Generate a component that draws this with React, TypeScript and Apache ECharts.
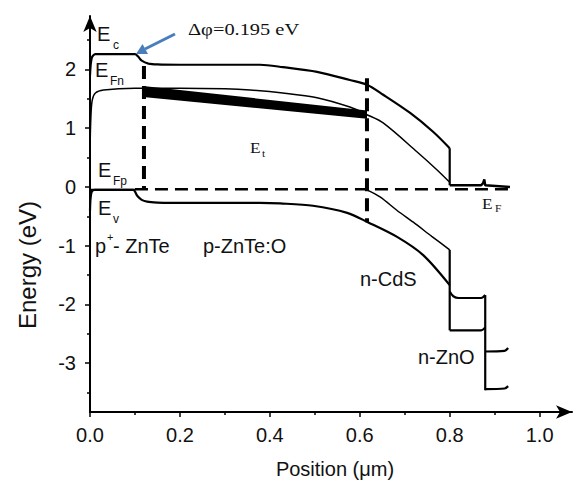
import React, { useEffect, useRef } from "react";
import * as echarts from "echarts";

// ---- axis ticks ----
const xMajorTicks = [0, 0.2, 0.4, 0.6, 0.8, 1.0];
const xMinorTicks = [0.1, 0.3, 0.5, 0.7, 0.9];
const yMajorTicks = [-3, -2, -1, 0, 1, 2];
const yMinorTicks = [-3.5, -2.5, -1.5, -0.5, 0.5, 1.5, 2.5];

// ---- band curves: [position (um), energy (eV)] ----
const ecCurve = [
  [0, 1.9], [0.004, 2.2], [0.012, 2.26], [0.1, 2.26], [0.107, 2.22], [0.115, 2.15],
  [0.13, 2.1], [0.15, 2.085], [0.2, 2.08], [0.3, 2.08], [0.378, 2.08], [0.429, 2.04],
  [0.505, 1.96], [0.578, 1.82], [0.616, 1.74], [0.652, 1.57], [0.712, 1.26],
  [0.763, 0.94], [0.8, 0.66],
];
const ecStep = [[0.8, 0.66], [0.8, 0.03]];
const ecTail = [[0.8, 0.03], [0.87, 0.03], [0.874, 0.06], [0.877, 0.13], [0.879, 0.03], [0.934, 0.0]];

const efnCurve = [
  [0, 0.6], [0.002, 1.2], [0.005, 1.48], [0.012, 1.6], [0.03, 1.65], [0.1, 1.68],
  [0.2, 1.68], [0.3, 1.67], [0.356, 1.65], [0.429, 1.6], [0.505, 1.52], [0.578, 1.36],
  [0.616, 1.23], [0.652, 1.09], [0.727, 0.6], [0.772, 0.29], [0.8, 0.08],
];

const trapTop = [[0.118, 1.72], [0.616, 1.3]];
const trapBottom = [[0.118, 1.53], [0.616, 1.16]];

const evCurve = [
  [0, -0.4], [0.003, -0.1], [0.01, -0.05], [0.096, -0.05], [0.105, -0.15], [0.115, -0.22],
  [0.127, -0.25], [0.15, -0.265], [0.178, -0.27], [0.3, -0.27], [0.378, -0.27],
  [0.423, -0.28], [0.496, -0.32], [0.572, -0.44], [0.618, -0.6], [0.683, -0.85],
  [0.741, -1.16], [0.8, -1.67],
];

const efpSolid = [[0, -0.05], [0.1, -0.05]];
const efpDashed = [[0.1, -0.04], [0.934, -0.04]];
const efpCurve = [[0.616, -0.05], [0.645, -0.17], [0.683, -0.4], [0.719, -0.6], [0.76, -0.84], [0.8, -1.07]];

const cdsVertical = [[0.8, -1.07], [0.8, -2.44]];
const cdsTop = [[0.8, -1.78], [0.808, -1.86], [0.82, -1.89], [0.87, -1.89], [0.879, -1.84]];
const cdsBottom = [[0.8, -2.44], [0.87, -2.44], [0.879, -2.39]];
const znoVertical = [[0.879, -1.84], [0.879, -3.46]];
const znoUpper = [[0.879, -2.8], [0.922, -2.79], [0.93, -2.74]];
const znoLower = [[0.879, -3.44], [0.922, -3.43], [0.93, -3.39]];

const interfaceLeft = [[0.12, 2.06], [0.12, -0.05]];
const interfaceRight = [[0.616, 1.85], [0.616, -0.6]];

const X_MIN = 0, X_MAX = 1.072;
const Y_MIN = -3.83, Y_MAX = 2.91;

const SANS = "'Liberation Sans', Arial, sans-serif";
const SERIF = "'Liberation Serif', 'Times New Roman', serif";

function line(name: string, data: number[][], width: number, smooth: number | boolean = false, extra: any = {}) {
  return {
    name,
    type: "line",
    data,
    showSymbol: false,
    smooth,
    silent: true,
    lineStyle: { color: "#000", width, ...extra },
    z: 3,
  };
}

function txt(x: number, y: number, text: string, size: number, font = SANS, extra: any = {}, sx = 1) {
  return {
    type: "text",
    x,
    y,
    scaleX: sx,
    silent: true,
    style: { text, fill: "#111", fontSize: size, fontFamily: font, ...extra },
    z: 10,
  };
}

export default function App() {
  const ref = useRef<HTMLDivElement>(null);
  useEffect(() => {
    if (!ref.current) return;
    const chart = echarts.init(ref.current, null, { renderer: "svg" });
    const axisCommon = {
      min: X_MIN,
      max: X_MAX,
      type: "value",
      position: "bottom",
      splitLine: { show: false },
    };
    const yCommon = {
      min: Y_MIN,
      max: Y_MAX,
      type: "value",
      position: "left",
      splitLine: { show: false },
    };
    chart.setOption({
      animation: false,
      backgroundColor: "#fff",
      grid: { left: 90, right: 9, top: 16, bottom: 74, containLabel: false },
      xAxis: [
        {
          ...axisCommon,
          axisLine: {
            onZero: false,
            lineStyle: { color: "#000", width: 2 },
            symbol: ["none", "arrow"],
            symbolSize: [10, 16],
          },
          axisTick: { show: true, inside: false, length: 5, customValues: xMajorTicks, lineStyle: { color: "#000", width: 1.5 } },
          axisLabel: {
            customValues: xMajorTicks,
            formatter: (v: number) => v.toFixed(1),
            fontSize: 20,
            fontFamily: SANS,
            color: "#111",
            margin: 13,
          },
        },
        {
          ...axisCommon,
          axisLine: { show: false, onZero: false },
          axisTick: { show: true, inside: false, length: 3, customValues: xMinorTicks, lineStyle: { color: "#000", width: 1.5 } },
          axisLabel: { show: false },
        },
      ],
      yAxis: [
        {
          ...yCommon,
          axisLine: {
            onZero: false,
            lineStyle: { color: "#000", width: 2 },
            symbol: ["none", "arrow"],
            symbolSize: [10, 16],
          },
          axisTick: { show: true, inside: false, length: 5, customValues: yMajorTicks, lineStyle: { color: "#000", width: 1.5 } },
          axisLabel: {
            customValues: yMajorTicks,
            formatter: (v: number) => String(Math.round(v)),
            fontSize: 20,
            fontFamily: SANS,
            color: "#111",
            margin: 14,
          },
        },
        {
          ...yCommon,
          axisLine: { show: false, onZero: false },
          axisTick: { show: true, inside: false, length: 3, customValues: yMinorTicks, lineStyle: { color: "#000", width: 1.5 } },
          axisLabel: { show: false },
        },
      ],
      series: [
        line("Ec", ecCurve, 2.2, 0.3),
        line("EcStep", ecStep, 2.2),
        line("EcTail", ecTail, 2.4),
        line("EFn", efnCurve, 1.5, 0.3),
        line("Ev", evCurve, 2.2, 0.3),
        line("EFpSolid", efpSolid, 2.4),
        line("EFp", efpDashed, 2.6, false, { type: [13, 7] }),
        line("EFpCurve", efpCurve, 1.5, 0.3),
        line("CdSv", cdsVertical, 2.2),
        line("CdSTop", cdsTop, 2.2, 0.3),
        line("CdSBottom", cdsBottom, 2.2, 0.3),
        line("ZnOv", znoVertical, 2.2),
        line("ZnOUp", znoUpper, 2.2, 0.3),
        line("ZnOLow", znoLower, 2.2, 0.3),
        line("IfLeft", interfaceLeft, 4, false, { type: [13, 7] }),
        line("IfRight", interfaceRight, 4, false, { type: [13, 7] }),
        {
          type: "custom",
          name: "Et",
          silent: true,
          data: [0],
          z: 4,
          renderItem: (params: any, api: any) => {
            const pts = [
              api.coord(trapTop[0]),
              api.coord(trapTop[1]),
              api.coord(trapBottom[1]),
              api.coord(trapBottom[0]),
            ];
            return { type: "polygon", shape: { points: pts }, style: { fill: "#000" } };
          },
        },
      ],
      graphic: [
        txt(97, 24, "E", 20),
        txt(113, 39, "c", 12),
        txt(95, 60, "E", 20),
        txt(110, 75, "Fn", 12),
        txt(98, 160, "E", 20),
        txt(113, 175, "Fp", 12),
        txt(98, 198, "E", 20),
        txt(113, 213, "v", 12),
        txt(95, 236, "p", 20),
        txt(107, 231, "+", 11),
        txt(113, 236, "- ZnTe", 20),
        txt(203, 236, "p-ZnTe:O", 20),
        txt(360, 269, "n-CdS", 20),
        txt(418, 347, "n-ZnO", 20),
        txt(250, 140, "E", 15, SERIF, {}, 1.15),
        txt(262, 148, "t", 10, SERIF, {}, 1.15),
        txt(482, 196, "E", 15, SERIF, {}, 1.15),
        txt(495, 203, "F", 10, SERIF, {}, 1.15),
        txt(188, 21, "Δφ=0.195 eV", 17, SERIF, {}, 1.2),
        {
          type: "line",
          silent: true,
          shape: { x1: 175, y1: 34, x2: 145, y2: 49 },
          style: { stroke: "#4a7ebb", lineWidth: 3 },
          z: 10,
        },
        {
          type: "polygon",
          silent: true,
          shape: { points: [[136, 54], [148, 54], [142.5, 44]] },
          style: { fill: "#4a7ebb" },
          z: 10,
        },
        {
          type: "text",
          silent: true,
          x: 27,
          y: 265,
          rotation: Math.PI / 2,
          style: {
            text: "Energy (eV)",
            fontSize: 24,
            fontFamily: SANS,
            fill: "#111",
            align: "center",
            verticalAlign: "middle",
          },
          z: 10,
        },
        {
          type: "text",
          silent: true,
          x: 335,
          y: 469,
          style: {
            text: "Position (μm)",
            fontSize: 20,
            fontFamily: SANS,
            fill: "#111",
            align: "center",
            verticalAlign: "middle",
          },
          z: 10,
        },
      ],
    });
    return () => chart.dispose();
  }, []);
  return (
    <div
      ref={ref}
      style={{ position: "absolute", left: 0, top: 0, width: 581, height: 486 }}
    />
  );
}
